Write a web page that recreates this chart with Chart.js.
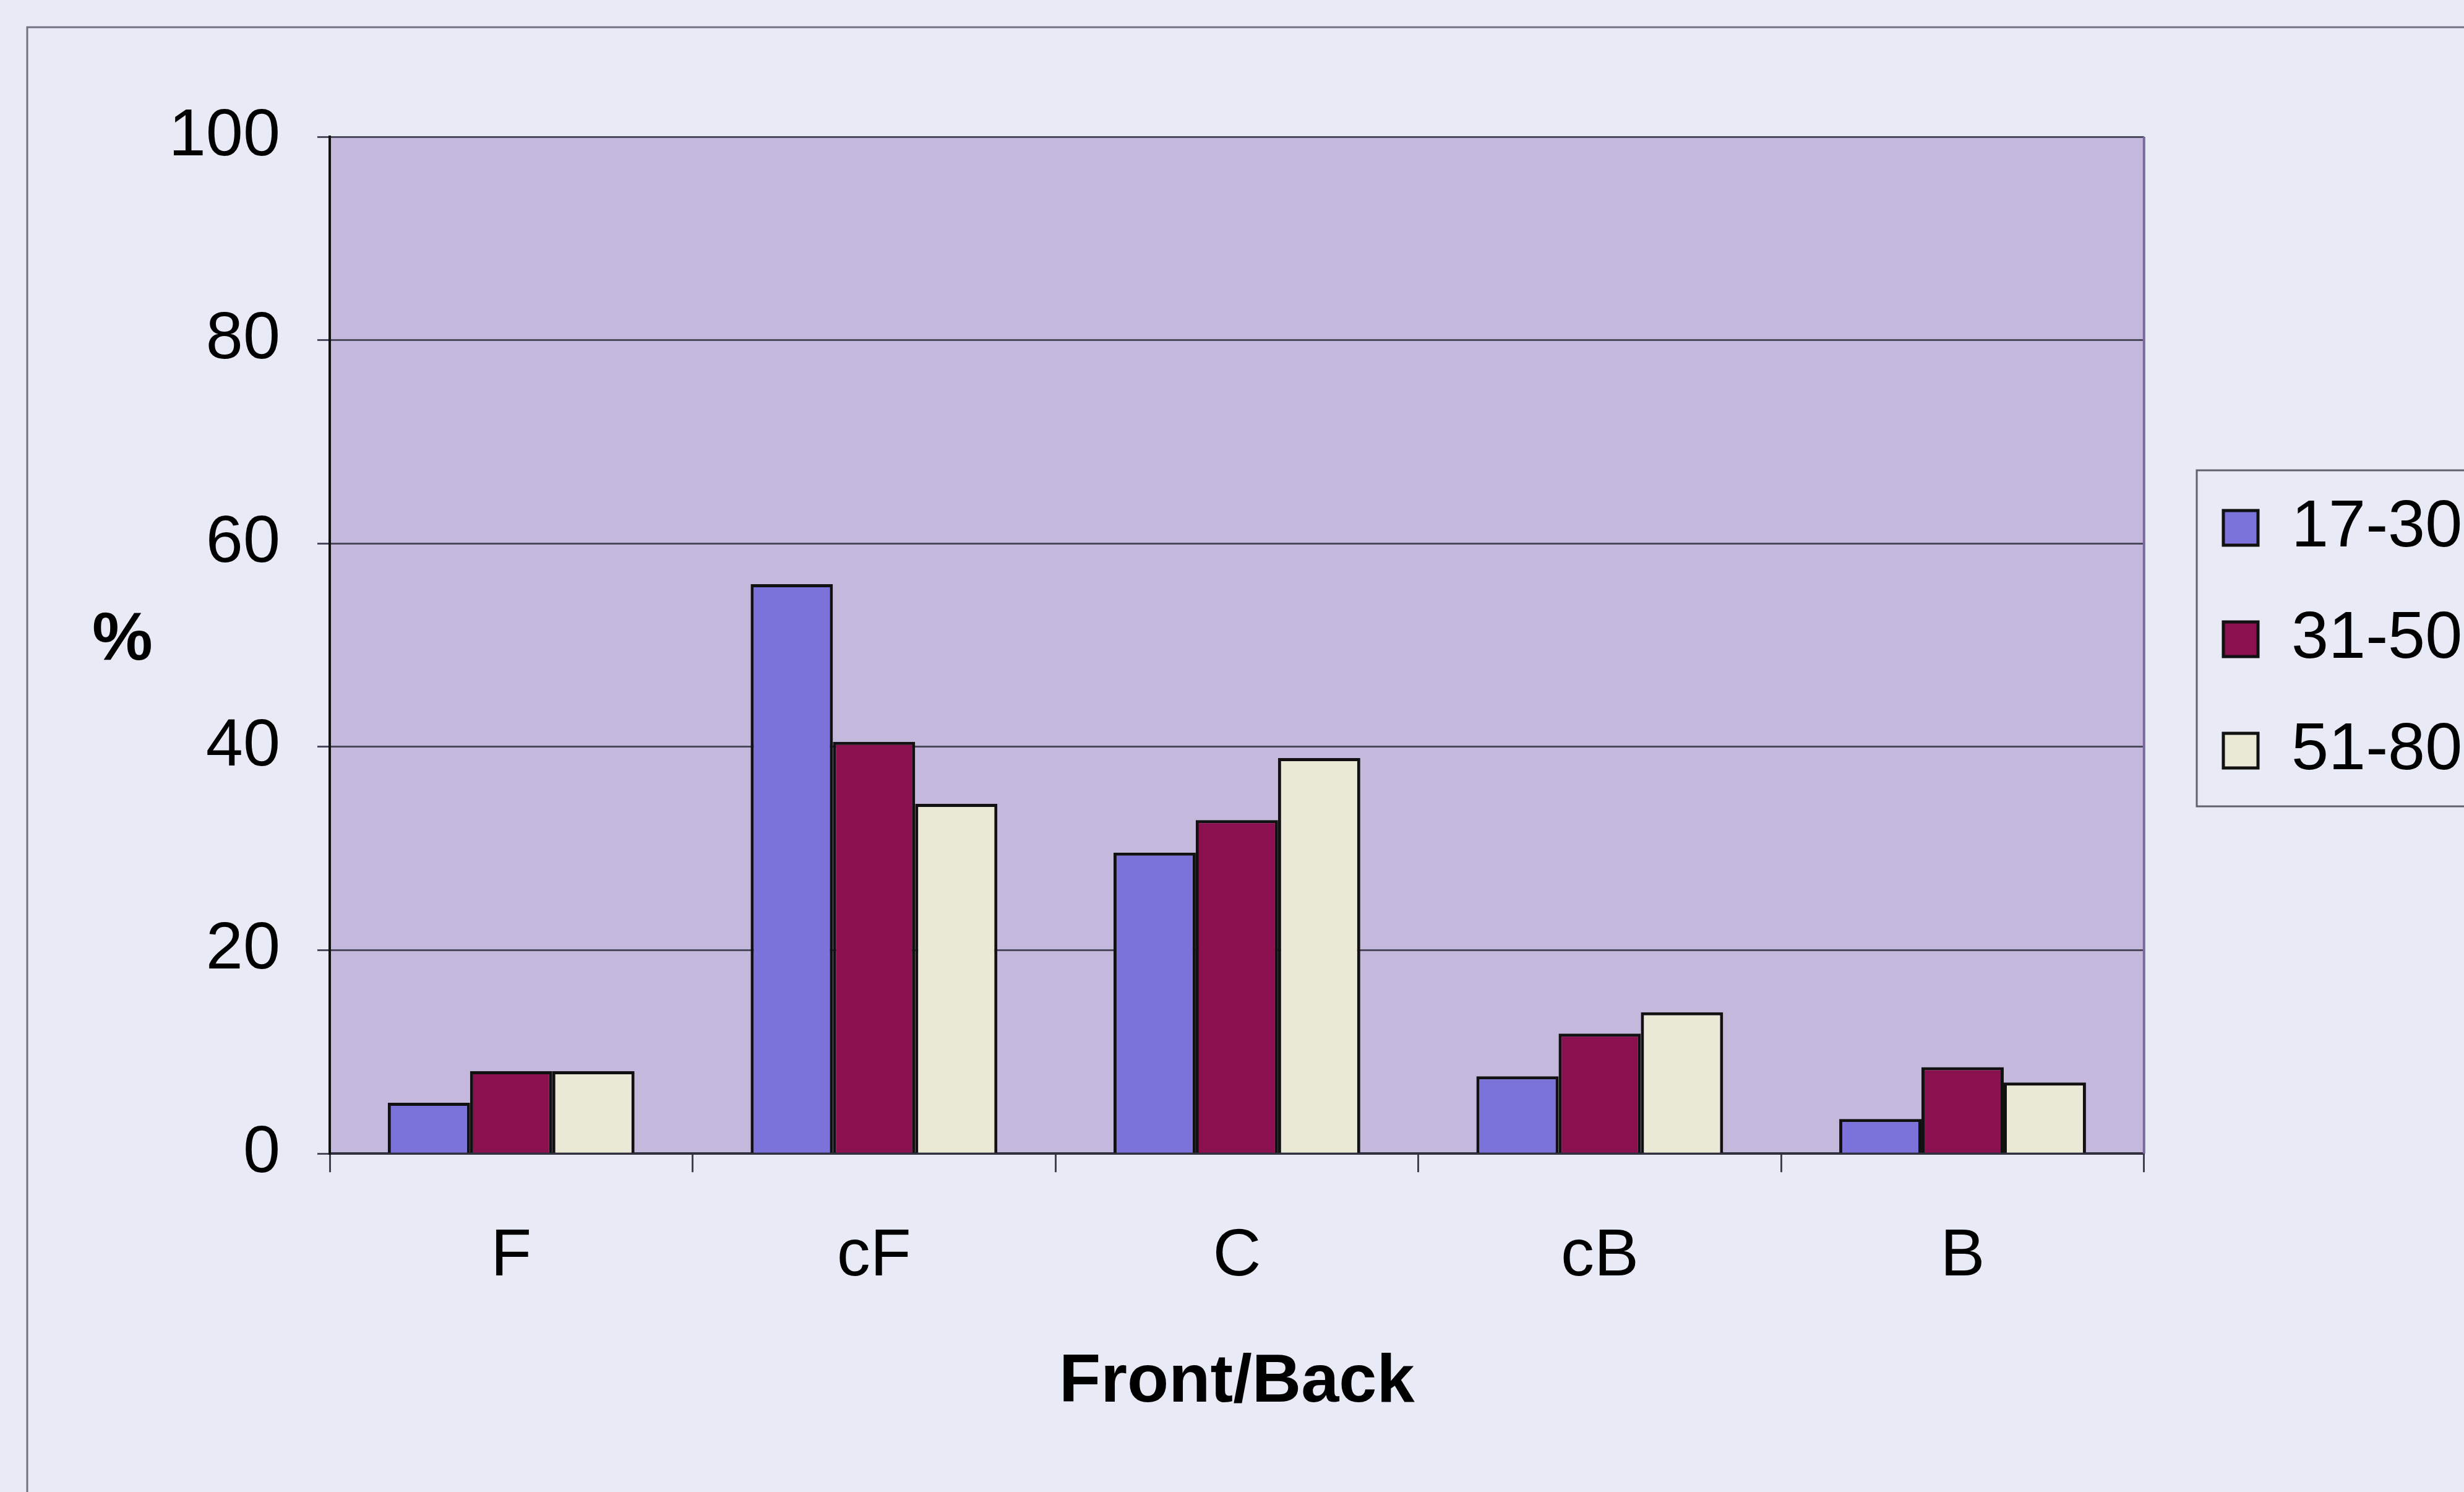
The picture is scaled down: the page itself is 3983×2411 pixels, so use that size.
<!DOCTYPE html>
<html>
<head>
<meta charset="utf-8">
<script src="https://cdn.jsdelivr.net/npm/chart.js@4.4.1/dist/chart.umd.min.js"></script>
<style>
  html, body { margin: 0; padding: 0; background: #E8EAF6; overflow: hidden; }
  canvas { display: block; }
</style>
</head>
<body>
<canvas id="c" width="3983" height="2411"></canvas>
<script>
const categories = ['F', 'cF', 'C', 'cB', 'B'];
const seriesNames = ['17-30', '31-50', '51-80'];
const age17_30 = [5, 56, 29.6, 7.6, 3.4];
const age31_50 = [8.1, 40.5, 32.8, 11.8, 8.5];
const age51_80 = [8.1, 34.4, 38.9, 13.9, 7.0];
const yTicks = [0, 20, 40, 60, 80, 100];
const xTitle = 'Front/Back';
const yTitle = '%';

const FONT = "'Liberation Sans', Arial, sans-serif";

const decor = {
  id: 'decor',
  beforeDraw(chart) {
    const ctx = chart.ctx;
    const a = chart.chartArea;
    ctx.save();
    ctx.fillStyle = '#E8EAF6';
    ctx.fillRect(0, 0, chart.width, chart.height);
    ctx.strokeStyle = '#707080';
    ctx.lineWidth = 3;
    ctx.strokeRect(44, 44, chart.width + 100, chart.height + 100);
    ctx.fillStyle = '#C4B9DC';
    ctx.fillRect(a.left, a.top, a.right - a.left, a.bottom - a.top);
    ctx.restore();
  },
  afterLayout(chart) {
    const lg = chart.legend;
    if (lg) {
      const w = lg.width;
      lg.left = 3522; lg.right = 3522 + w;
      lg.top = 727; lg.bottom = 727 + 620;
      lg.height = 620;
    }
  },
  afterDatasetsDraw(chart) {
    const ctx = chart.ctx;
    const a = chart.chartArea;
    ctx.save();
    ctx.strokeStyle = '#7A6A98';
    ctx.lineWidth = 4;
    ctx.beginPath();
    ctx.moveTo(a.right, a.top);
    ctx.lineTo(a.right, a.bottom);
    ctx.stroke();
    ctx.restore();
  },
  afterDraw(chart) {
    const ctx = chart.ctx;
    ctx.save();
    ctx.strokeStyle = '#606070';
    ctx.lineWidth = 3;
    ctx.strokeRect(3551, 760, 700, 543);
    ctx.fillStyle = '#000';
    ctx.font = 'bold 110px ' + FONT;
    ctx.textAlign = 'center';
    ctx.textBaseline = 'middle';
    ctx.fillText(yTitle, 198, 1036);
    ctx.restore();
  }
};

const colors = ['#7B72DA', '#8A1050', '#E9E9D6'];
const values = [age17_30, age31_50, age51_80];

new Chart(document.getElementById('c'), {
  type: 'bar',
  data: {
    labels: categories,
    datasets: seriesNames.map((n, i) => ({
      label: n,
      data: values[i],
      backgroundColor: colors[i],
      borderColor: '#111111',
      borderWidth: 5,
      categoryPercentage: 0.68,
      barPercentage: 1.0
    }))
  },
  options: {
    responsive: false,
    animation: false,
    devicePixelRatio: 1,
    layout: { padding: { left: 0, right: 49, top: 221, bottom: 0 } },
    plugins: {
      tooltip: { enabled: false },
      legend: {
        position: 'right',
        align: 'start',
        fullSize: false,
        labels: {
          color: '#000',
          font: { family: FONT, size: 108 },
          boxWidth: 56,
          boxHeight: 56,
          padding: 72
        }
      }
    },
    scales: {
      x: {
        grid: { offset: true, drawOnChartArea: false, drawTicks: true, tickLength: 30, color: '#404050', lineWidth: 3 },
        border: { display: true, color: '#303040', width: 4 },
        ticks: { color: '#000', font: { family: FONT, size: 108, lineHeight: 1.1 }, padding: 78 },
        title: { display: true, text: xTitle, color: '#000', font: { family: FONT, size: 110, weight: 'bold' }, padding: { top: 0, bottom: 110 } }
      },
      y: {
        min: 0, max: 100,
        afterBuildTicks(scale) { scale.ticks = yTicks.map(v => ({ value: v })); },
        afterFit(scale) { scale.width = 533; },
        grid: { color: '#4A4A5C', lineWidth: 3, tickLength: 20 },
        border: { display: true, color: '#111', width: 4 },
        ticks: { color: '#000', font: { family: FONT, size: 108 }, padding: 60 }
      }
    }
  },
  plugins: [decor]
});
</script>
</body>
</html>
